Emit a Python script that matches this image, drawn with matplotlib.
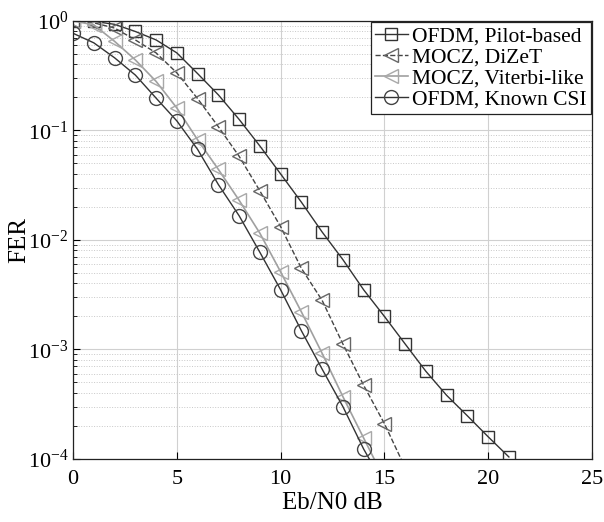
import numpy as np
import matplotlib.pyplot as plt
from matplotlib.ticker import LogLocator, NullFormatter

plt.rcParams["font.family"] = ["Liberation Serif", "DejaVu Serif"]
plt.rcParams["mathtext.fontset"] = "stix"

# Eb/N0 values (dB)
snr_pilot = list(range(0, 22))
snr_dizet = list(range(0, 17))
snr_viterbi = list(range(0, 16))
snr_csi = list(range(0, 16))

# FER
fer_pilot = [1.0, 0.99, 0.93, 0.80, 0.67, 0.51, 0.33, 0.211, 0.126, 0.072, 0.040,
             0.0221, 0.0118, 0.0066, 0.0035, 0.0020, 0.00112, 0.00063, 0.00038,
             0.000247, 0.000159, 0.000104]
fer_dizet = [1.0, 0.96, 0.86, 0.67, 0.51, 0.335, 0.195, 0.108, 0.058, 0.028, 0.0132,
             0.0055, 0.0028, 0.00112, 0.00047, 0.00021, 0.000083]
fer_viterbi = [1.0, 0.92, 0.65, 0.44, 0.28, 0.16, 0.082, 0.044, 0.023, 0.0115, 0.0051,
               0.0022, 0.00092, 0.00037, 0.000155, 0.000065]
fer_csi = [0.77, 0.63, 0.46, 0.32, 0.197, 0.122, 0.067, 0.032, 0.0166, 0.0077, 0.0035,
           0.00148, 0.00066, 0.0003, 0.000123, 0.000057]

fig, ax = plt.subplots(figsize=(6.04, 5.22), dpi=100)

ax.semilogy(snr_pilot, fer_pilot, color="#333333", lw=1.0, marker="s", ms=8.5,
            mfc="none", mec="#333333", label="OFDM, Pilot-based")
ax.semilogy(snr_dizet, fer_dizet, color="#444444", lw=1.0, ls="--", marker="<", ms=10,
            mfc="none", mec="#666666", label="MOCZ, DiZeT")
ax.semilogy(snr_viterbi, fer_viterbi, color="#a0a0a0", lw=1.2, marker="<", ms=10,
            mfc="none", mec="#a8a8a8", label="MOCZ, Viterbi-like")
ax.semilogy(snr_csi, fer_csi, color="#333333", lw=1.0, marker="o", ms=10,
            mfc="none", mec="#444444", label="OFDM, Known CSI")

ax.set_xlim(0, 25)
ax.set_ylim(1e-4, 1)
ax.set_xticks([0, 5, 10, 15, 20, 25])
ax.yaxis.set_major_locator(LogLocator(base=10, numticks=10))
ax.yaxis.set_minor_locator(LogLocator(base=10, subs=np.arange(2, 10), numticks=20))
ax.yaxis.set_minor_formatter(NullFormatter())

ax.grid(True, which="major", color="#d0d0d0", lw=0.8, ls="-")
ax.grid(True, which="minor", axis="y", color="#c8c8c8", lw=0.7, ls=":")
ax.set_axisbelow(True)

ax.tick_params(which="both", direction="in", top=False, right=False, labelsize=16)
ax.tick_params(which="major", length=5)
ax.tick_params(which="minor", length=3)
ax.tick_params(axis="x", pad=8)
for s in ax.spines.values():
    s.set_color("#222222")
    s.set_linewidth(0.9)

ax.set_xlabel("Eb/N0 dB", fontsize=18, labelpad=2)
ax.set_ylabel("FER", fontsize=18, labelpad=-2)

leg = ax.legend(loc="upper right", fontsize=15.5, fancybox=False, framealpha=1,
                edgecolor="#222222", borderpad=0.2, labelspacing=0.05,
                handlelength=1.5, handletextpad=0.2, borderaxespad=0.05)
leg.get_frame().set_linewidth(0.9)

fig.subplots_adjust(left=0.121, right=0.98, top=0.96, bottom=0.121)
fig.savefig("out.png", dpi=100)
